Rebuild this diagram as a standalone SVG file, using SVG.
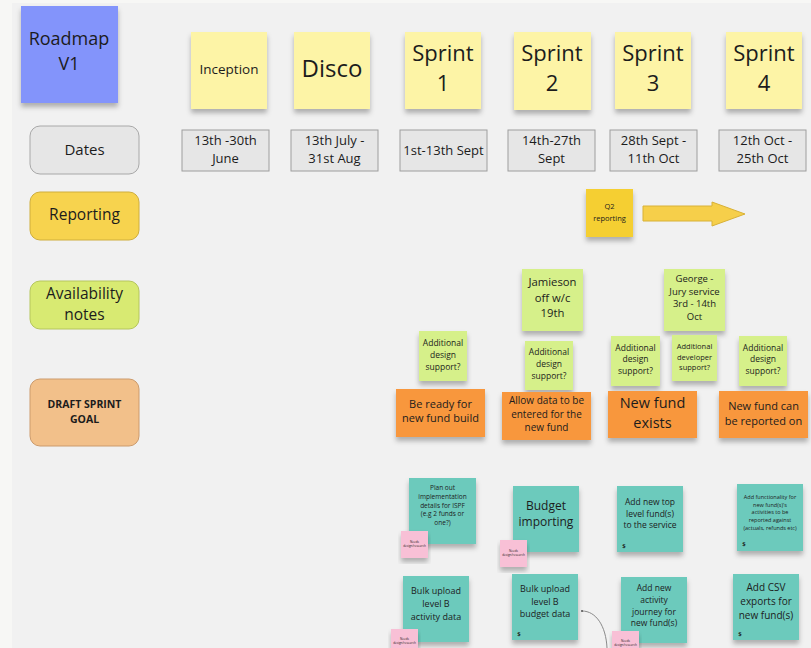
<svg xmlns="http://www.w3.org/2000/svg" width="811" height="648" viewBox="0 0 811 648">
<defs>
<filter id="sh" x="-10%" y="-10%" width="120%" height="130%">
<feDropShadow dx="0" dy="4" stdDeviation="2.5" flood-color="#000" flood-opacity="0.28"/>
</filter>
<style>
text{font-family:"Open Sans","Noto Sans","Liberation Sans",sans-serif;fill:#1c1c1c;text-anchor:middle}
.yel{fill:#fdf4a6;filter:url(#sh)}
.grn{fill:#d6f08a;filter:url(#sh)}
.org{fill:#f8973e;filter:url(#sh)}
.teal{fill:#6ccabc;filter:url(#sh)}
.pink{fill:#f8c0d6;filter:url(#sh)}
.date{fill:#e6e6e6;stroke:#9e9e9e;stroke-width:1}
.conn{fill:none;stroke:#8a8a8a;stroke-width:1}
</style>
</defs>
<rect x="0" y="0" width="811" height="648" fill="#f7f7f5"/>
<rect x="12" y="3" width="799" height="645" fill="#f1f1f1"/>

<g id="roadmap"><rect x="21" y="6" width="97" height="97" fill="#8394fb" filter="url(#sh)"/><text x="69" y="45" font-size="18">Roadmap</text><text x="69" y="70" font-size="18">V1</text></g>

<g id="inception"><rect class="yel" x="191" y="32" width="76" height="77"/><text x="229" y="74" font-size="13.5">Inception</text></g>
<g id="disco"><rect class="yel" x="294" y="32" width="76" height="77"/><text x="332" y="77" font-size="24">Disco</text></g>
<g id="sprint1"><rect class="yel" x="405" y="32" width="76" height="77"/><text x="443" y="61" font-size="22">Sprint</text><text x="443" y="91" font-size="22">1</text></g>
<g id="sprint2"><rect class="yel" x="514" y="32" width="77" height="78"/><text x="552" y="61" font-size="22">Sprint</text><text x="552" y="91" font-size="22">2</text></g>
<g id="sprint3"><rect class="yel" x="615" y="32" width="76" height="77"/><text x="653" y="61" font-size="22">Sprint</text><text x="653" y="91" font-size="22">3</text></g>
<g id="sprint4"><rect class="yel" x="726" y="32" width="76" height="77"/><text x="764" y="61" font-size="22">Sprint</text><text x="764" y="91" font-size="22">4</text></g>

<g id="dates"><rect x="30" y="126" width="109" height="48" rx="10" fill="#e6e6e6" stroke="#a8a8a8"/><text x="84.5" y="155" font-size="15">Dates</text></g>
<g id="d-inception"><rect class="date" x="182" y="130" width="87" height="41"/><text x="225.5" y="145" font-size="13">13th -30th</text><text x="225.5" y="163" font-size="13">June</text></g>
<g id="d-disco"><rect class="date" x="291" y="130" width="87" height="41"/><text x="334.5" y="145" font-size="13">13th July -</text><text x="334.5" y="163" font-size="13">31st Aug</text></g>
<g id="d-s1"><rect class="date" x="400" y="130" width="87" height="41"/><text x="443.5" y="155" font-size="13">1st-13th Sept</text></g>
<g id="d-s2"><rect class="date" x="508" y="130" width="87" height="41"/><text x="551.5" y="145" font-size="13">14th-27th</text><text x="551.5" y="163" font-size="13">Sept</text></g>
<g id="d-s3"><rect class="date" x="610" y="130" width="87" height="41"/><text x="653.5" y="145" font-size="13">28th Sept -</text><text x="653.5" y="163" font-size="13">11th Oct</text></g>
<g id="d-s4"><rect class="date" x="719" y="130" width="87" height="41"/><text x="762.5" y="145" font-size="13">12th Oct -</text><text x="762.5" y="163" font-size="13">25th Oct</text></g>

<g id="reporting"><rect x="30" y="192" width="109" height="48" rx="10" fill="#f7d34e" stroke="#cfae3c"/><text x="84.5" y="220" font-size="15.5">Reporting</text></g>
<g id="availability"><rect x="30" y="281" width="109" height="48" rx="10" fill="#d8ea72" stroke="#b5c65c"/><text x="84.5" y="299" font-size="15.5">Availability</text><text x="84.5" y="320" font-size="15.5">notes</text></g>
<g id="draft"><rect x="30" y="379" width="109" height="67" rx="10" fill="#f2c08a" stroke="#cc9b6c"/><text x="84.5" y="408" font-size="10.5" font-weight="bold">DRAFT SPRINT</text><text x="84.5" y="423" font-size="10.5" font-weight="bold">GOAL</text></g>

<g id="q2"><rect x="586" y="189" width="47" height="48" fill="#f5cf30" filter="url(#sh)"/><text x="609.5" y="209" font-size="7.5">Q2</text><text x="609.5" y="220.5" font-size="7.5">reporting</text></g>
<g id="q2-arrow"><polygon points="643,206 712,206 712,202 745,214 712,226 712,221 643,221" fill="#f6cf4a" stroke="#d8b136" stroke-width="1"/></g>

<g id="av1"><rect class="grn" x="419" y="331" width="48" height="50"/><text x="443" y="346" font-size="8.5">Additional</text><text x="443" y="358" font-size="8.5">design</text><text x="443" y="370" font-size="8.5">support?</text></g>
<g id="jamieson"><rect class="grn" x="522" y="269" width="61" height="62"/><text x="552.5" y="286" font-size="11.3">Jamieson</text><text x="552.5" y="301.5" font-size="11.3">off w/c</text><text x="552.5" y="317" font-size="11.3">19th</text></g>
<g id="av2"><rect class="grn" x="525" y="341" width="48" height="49"/><text x="549" y="355" font-size="8.5">Additional</text><text x="549" y="367" font-size="8.5">design</text><text x="549" y="379" font-size="8.5">support?</text></g>
<g id="av3"><rect class="grn" x="611" y="336" width="49" height="50"/><text x="635.5" y="351" font-size="8.5">Additional</text><text x="635.5" y="362" font-size="8.5">design</text><text x="635.5" y="374" font-size="8.5">support?</text></g>
<g id="george"><rect class="grn" x="664" y="269" width="61" height="62"/><text x="694.5" y="282" font-size="9.5">George -</text><text x="694.5" y="295" font-size="9.5">Jury service</text><text x="694.5" y="307" font-size="9.5">3rd - 14th</text><text x="694.5" y="320" font-size="9.5">Oct</text></g>
<g id="av4"><rect class="grn" x="672" y="335" width="45" height="46"/><text x="694.5" y="349" font-size="7.5">Additional</text><text x="694.5" y="360" font-size="7.5">developer</text><text x="694.5" y="370" font-size="7.5">support?</text></g>
<g id="av5"><rect class="grn" x="739" y="336" width="48" height="50"/><text x="763" y="351" font-size="8.5">Additional</text><text x="763" y="362" font-size="8.5">design</text><text x="763" y="374" font-size="8.5">support?</text></g>

<g id="goal1"><rect class="org" x="396" y="389" width="89" height="48"/><text x="440.5" y="408" font-size="11">Be ready for</text><text x="440.5" y="422" font-size="11">new fund build</text></g>
<g id="goal2"><rect class="org" x="502" y="392" width="89" height="48"/><text x="546.5" y="404" font-size="10">Allow data to be</text><text x="546.5" y="417.5" font-size="10">entered for the</text><text x="546.5" y="431" font-size="10">new fund</text></g>
<g id="goal3"><rect class="org" x="608" y="391" width="89" height="47"/><text x="652.5" y="408" font-size="14.5">New fund</text><text x="652.5" y="428" font-size="14.5">exists</text></g>
<g id="goal4"><rect class="org" x="719" y="391" width="89" height="47"/><text x="763.5" y="410" font-size="11">New fund can</text><text x="763.5" y="425" font-size="11">be reported on</text></g>

<g id="t-plan"><rect class="teal" x="409" y="478" width="67" height="66"/><text x="442.5" y="490" font-size="6.5">Plan out</text><text x="442.5" y="499" font-size="6.5">implementation</text><text x="442.5" y="508" font-size="6.5">details for ISPF</text><text x="442.5" y="516" font-size="6.5">(e.g 2 funds or</text><text x="442.5" y="525" font-size="6.5">one?)</text></g>
<g id="p-plan"><rect class="pink" x="401" y="531" width="27" height="27"/><text x="414.5" y="543" font-size="3">Needs</text><text x="414.5" y="547" font-size="3">design/research</text></g>

<g id="t-budget"><rect class="teal" x="513" y="486" width="66" height="66"/><text x="546" y="510" font-size="12">Budget</text><text x="546" y="526" font-size="12">importing</text></g>
<g id="p-budget"><rect class="pink" x="500" y="540" width="27" height="27"/><text x="513.5" y="552" font-size="3">Needs</text><text x="513.5" y="556" font-size="3">design/research</text></g>

<g id="t-toplevel"><rect class="teal" x="617" y="486" width="66" height="66"/><text x="650" y="505" font-size="8.5">Add new top</text><text x="650" y="516.5" font-size="8.5">level fund(s)</text><text x="650" y="528" font-size="8.5">to the service</text><text x="624" y="548" font-size="6" font-weight="bold">$</text></g>

<g id="t-func"><rect class="teal" x="737" y="484" width="66" height="67"/><text x="770" y="499" font-size="5.5">Add functionality for</text><text x="770" y="506.5" font-size="5.5">new fund(s)'s</text><text x="770" y="514" font-size="5.5">activities to be</text><text x="770" y="522" font-size="5.5">reported against</text><text x="770" y="530" font-size="5.5">(actuals, refunds etc)</text><text x="744" y="546" font-size="6" font-weight="bold">$</text></g>

<g id="t-bulk-act"><rect class="teal" x="403" y="576" width="66" height="66"/><text x="436" y="594" font-size="9">Bulk upload</text><text x="436" y="607" font-size="9">level B</text><text x="436" y="620" font-size="9">activity data</text></g>
<g id="p-bulk-act"><rect class="pink" x="391" y="629" width="27" height="27"/><text x="404.5" y="640" font-size="3">Needs</text><text x="404.5" y="644" font-size="3">design/research</text></g>

<g id="t-bulk-bud"><rect class="teal" x="512" y="574" width="66" height="66"/><text x="545" y="592" font-size="9">Bulk upload</text><text x="545" y="605" font-size="9">level B</text><text x="545" y="617" font-size="9">budget data</text><text x="519" y="636" font-size="6" font-weight="bold">$</text></g>

<g id="t-journey"><rect class="teal" x="621" y="577" width="66" height="66"/><text x="654" y="591" font-size="8.5">Add new</text><text x="654" y="603" font-size="8.5">activity</text><text x="654" y="615" font-size="8.5">journey for</text><text x="654" y="626" font-size="8.5">new fund(s)</text></g>
<g id="p-journey"><rect class="pink" x="612" y="631" width="27" height="27"/><text x="625.5" y="642" font-size="3">Needs</text><text x="625.5" y="646" font-size="3">design/research</text></g>

<g id="t-csv"><rect class="teal" x="733" y="574" width="66" height="66"/><text x="766" y="591" font-size="10">Add CSV</text><text x="766" y="605" font-size="10">exports for</text><text x="766" y="619" font-size="10">new fund(s)</text><text x="740" y="636" font-size="6" font-weight="bold">$</text></g>

<g id="connectors"><path class="conn" d="M582,611 C596,611 606,626 607,648"/><circle cx="582" cy="611" r="1" fill="#555"/></g>
</svg>
